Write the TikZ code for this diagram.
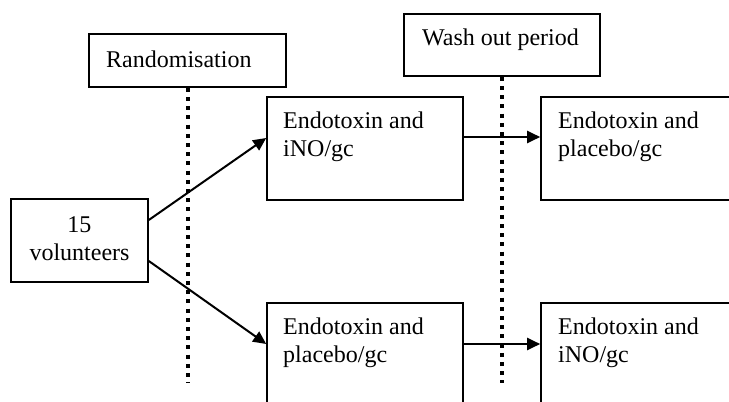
\documentclass[tikz,border=0pt]{standalone}
\usepackage{fontspec}
\setmainfont{Liberation Serif}
\usetikzlibrary{arrows.meta}
\begin{document}
\begin{tikzpicture}[x=1pt,y=-1pt,
  box/.style={draw=black,line width=1.6pt,rectangle,inner sep=0pt,fill=none},
  lbl/.style={inner sep=0pt,anchor=base west,align=left,font=\fontsize{24}{28}\selectfont},
  clbl/.style={inner sep=0pt,anchor=base,align=center,font=\fontsize{24}{28}\selectfont},
  arr/.style={line width=2pt,-{Triangle[length=13pt,width=12pt]}},
  dots/.style={line width=4pt,dash pattern=on 4pt off 5.2pt}]
\useasboundingbox (0,0) rectangle (729,402);
\clip (0,0) rectangle (729,402);
\fill[white] (0,0) rectangle (729,402);
% boxes
\node[box,minimum width=197pt,minimum height=53pt] (rand) at (187.5,60.5) {};
\node[box,minimum width=196pt,minimum height=62pt] (wash) at (502,45) {};
\node[box,minimum width=137pt,minimum height=83pt] (vol) at (79.5,240.5) {};
\node[box,minimum width=196pt,minimum height=103pt] (a1) at (365,148.5) {};
\node[box,minimum width=196pt,minimum height=103pt] (a2) at (639,148.5) {};
\node[box,minimum width=196pt,minimum height=103pt] (b1) at (365,354.5) {};
\node[box,minimum width=196pt,minimum height=103pt] (b2) at (639,354.5) {};
% texts (base anchor = baseline of the last line)
\node[lbl] (trand) at (106,67) {Randomisation};
\node[lbl] (twash) at (422,45) {Wash out period};
\node[clbl] (tvol) at (79.5,260) {15\\volunteers};
\node[lbl] (ta1) at (283,156) {Endotoxin and\\iNO/gc};
\node[lbl] (ta2) at (558,156) {Endotoxin and\\placebo/gc};
\node[lbl] (tb1) at (283,362) {Endotoxin and\\placebo/gc};
\node[lbl] (tb2) at (558,362) {Endotoxin and\\iNO/gc};
% dotted lines
\coordinate (rend) at (187.5,383);
\coordinate (wend) at (502,383);
\draw[dots] (rand.south) -- (rend);
\draw[dots] (wash.south) -- (wend);
% arrows
\draw[arr] ([yshift=20.5pt]vol.east) -- ([yshift=10.5pt]a1.west);
\draw[arr] ([yshift=-20.5pt]vol.east) -- ([yshift=10.5pt]b1.west);
\draw[arr] ([yshift=11.5pt]a1.east) -- ([yshift=11.5pt]a2.west);
\draw[arr] ([yshift=10.5pt]b1.east) -- ([yshift=10.5pt]b2.west);
\end{tikzpicture}
\end{document}
